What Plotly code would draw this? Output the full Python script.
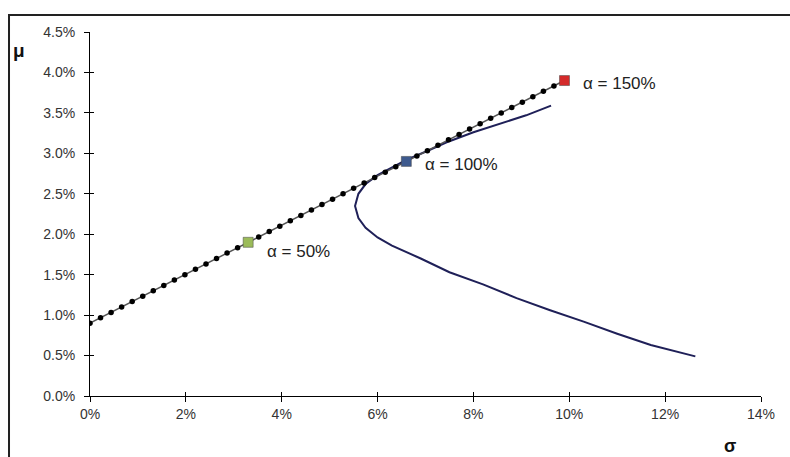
import plotly.graph_objects as go

# Capital market line points (sigma %, mu %)
cml_sigma = [0.00, 0.22, 0.44, 0.66, 0.88, 1.10, 1.32, 1.54, 1.76, 1.98, 2.20, 2.42, 2.64, 2.86, 3.08, 3.30,
             3.52, 3.74, 3.96, 4.18, 4.40, 4.62, 4.84, 5.06, 5.28, 5.50, 5.72, 5.94, 6.16, 6.38, 6.60,
             6.82, 7.04, 7.26, 7.48, 7.70, 7.92, 8.14, 8.36, 8.58, 8.80, 9.02, 9.24, 9.46, 9.68, 9.90]
cml_mu = [0.900, 0.967, 1.033, 1.100, 1.167, 1.233, 1.300, 1.367, 1.433, 1.500, 1.567, 1.633, 1.700, 1.767, 1.833, 1.900,
          1.967, 2.033, 2.100, 2.167, 2.233, 2.300, 2.367, 2.433, 2.500, 2.567, 2.633, 2.700, 2.767, 2.833, 2.900,
          2.967, 3.033, 3.100, 3.167, 3.233, 3.300, 3.367, 3.433, 3.500, 3.567, 3.633, 3.700, 3.767, 3.833, 3.900]

# Efficient frontier (sigma %, mu %)
front_sigma = [12.63, 11.7, 11.0, 10.3, 9.6, 8.9, 8.2, 7.5, 6.9, 6.3, 6.0, 5.75, 5.6, 5.53, 5.6, 5.75,
               6.0, 6.3, 6.6, 7.0, 7.5, 8.0, 8.6, 9.1, 9.62]
front_mu = [0.49, 0.63, 0.77, 0.92, 1.06, 1.21, 1.38, 1.53, 1.70, 1.86, 1.96, 2.08, 2.20, 2.35, 2.50, 2.62,
            2.73, 2.83, 2.92, 3.02, 3.15, 3.26, 3.37, 3.47, 3.59]

# Highlighted portfolios
alpha_labels = ["α = 50%", "α = 100%", "α = 150%"]
alpha_sigma = [3.30, 6.60, 9.90]
alpha_mu = [1.90, 2.90, 3.90]
alpha_colors = ["#9BBB59", "#3E5A8E", "#D42A2A"]
label_dy = [-9, -3, -3]

x_ticks = [0, 2, 4, 6, 8, 10, 12, 14]
x_ticklabels = ["0%", "2%", "4%", "6%", "8%", "10%", "12%", "14%"]
y_ticks = [0, 0.5, 1.0, 1.5, 2.0, 2.5, 3.0, 3.5, 4.0, 4.5]
y_ticklabels = ["0.0%", "0.5%", "1.0%", "1.5%", "2.0%", "2.5%", "3.0%", "3.5%", "4.0%", "4.5%"]

FONT = "Liberation Sans, Arial, sans-serif"

fig = go.Figure()
fig.add_trace(go.Scatter(x=front_sigma, y=front_mu, mode="lines",
                         line=dict(color="#1F2058", width=2), showlegend=False, hoverinfo="skip"))
fig.add_trace(go.Scatter(x=cml_sigma, y=cml_mu, mode="lines+markers",
                         line=dict(color="#555555", width=1.5),
                         marker=dict(color="#000000", size=5.5), showlegend=False))
fig.add_trace(go.Scatter(x=alpha_sigma, y=alpha_mu, mode="markers",
                         marker=dict(symbol="square", size=10, color=alpha_colors,
                                     line=dict(color="#444444", width=0.5)),
                         showlegend=False))
# invisible trace on overlay axes for inside ticks
fig.add_trace(go.Scatter(x=[0], y=[0], xaxis="x2", yaxis="y2", mode="markers",
                         marker=dict(opacity=0), showlegend=False, hoverinfo="skip"))

for lab, sx, my, dy in zip(alpha_labels, alpha_sigma, alpha_mu, label_dy):
    fig.add_annotation(x=sx, y=my, text=lab, showarrow=False, xanchor="left", yanchor="middle",
                       xshift=17, yshift=dy, font=dict(family=FONT, size=17, color="#222222"))

fig.add_annotation(xref="paper", yref="paper", x=-0.1058, y=0.948, text="<b>μ</b>", showarrow=False,
                   xanchor="center", yanchor="middle",
                   font=dict(family=FONT, size=19, color="#111111"))
fig.add_annotation(xref="paper", yref="paper", x=0.954, y=-0.1374, text="<b>σ</b>", showarrow=False,
                   xanchor="center", yanchor="middle",
                   font=dict(family=FONT, size=18, color="#111111"))

fig.add_shape(type="rect", xref="paper", yref="paper", x0=-0.1207, y0=-0.3, x1=1.2, y1=1.0467,
              line=dict(color="#222222", width=2), layer="below")

axis_common = dict(showgrid=False, zeroline=False, showline=True, linecolor="#000000", linewidth=1,
                   ticks="outside", ticklen=5, tickcolor="#000000",
                   tickfont=dict(family=FONT, size=14, color="#333333"))

fig.update_layout(
    width=790, height=457,
    margin=dict(l=90, r=29, t=32, b=61),
    paper_bgcolor="white", plot_bgcolor="white",
    xaxis=dict(range=[0, 14], tickvals=x_ticks, ticktext=x_ticklabels, **axis_common),
    yaxis=dict(range=[0, 4.5], tickvals=y_ticks, ticktext=y_ticklabels, ticklabelstandoff=6, **axis_common),
    xaxis2=dict(overlaying="x", range=[0, 14], tickvals=x_ticks, showticklabels=False, showgrid=False,
                zeroline=False, showline=False, ticks="inside", ticklen=4, tickcolor="#000000", side="bottom"),
    yaxis2=dict(overlaying="y", range=[0, 4.5], tickvals=y_ticks, showticklabels=False, showgrid=False,
                zeroline=False, showline=False, ticks="inside", ticklen=4, tickcolor="#000000", side="left"),
    showlegend=False,
)

# remove the default 8px page margin so the figure fills the window exactly
fig.write_html("out.html", config={"displayModeBar": False},
               post_script="document.body.style.margin='0';document.body.style.overflow='hidden';")
